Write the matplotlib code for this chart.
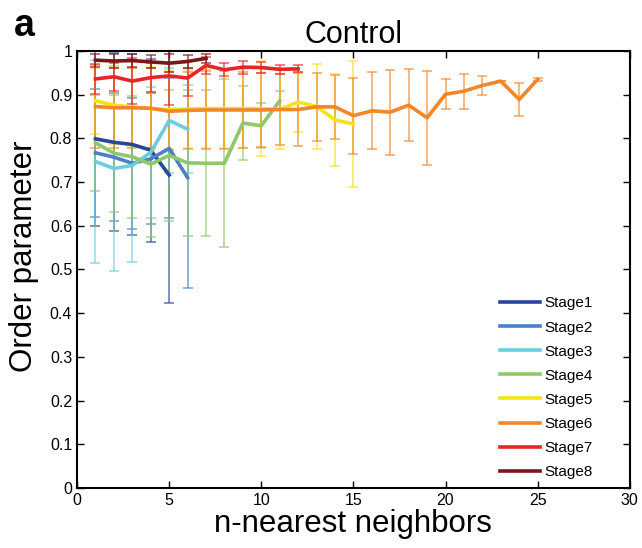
import matplotlib
matplotlib.use("Agg")
import matplotlib.pyplot as plt
import numpy as np

plt.rcParams['font.family'] = ['Liberation Sans', 'DejaVu Sans']

stage_names = ["Stage1", "Stage2", "Stage3", "Stage4", "Stage5", "Stage6", "Stage7", "Stage8"]
stage_colors = ["#27479a", "#4a80c6", "#6dcde0", "#8ec86a", "#f5e31a", "#f2862a", "#e8242a", "#7e1518"]

s1_mean = [0.799, 0.791, 0.786, 0.773, 0.716]
s1_std = [0.20, 0.204, 0.207, 0.209, 0.293]

s2_mean = [0.767, 0.757, 0.743, 0.753, 0.777, 0.710]
s2_std = [0.146, 0.146, 0.15, 0.15, 0.16, 0.252]

s3_mean = [0.747, 0.731, 0.738, 0.768, 0.841, 0.821]
s3_std = [0.233, 0.234, 0.222, 0.15, 0.12, 0.10]

s4_mean = [0.790, 0.766, 0.758, 0.741, 0.761, 0.744, 0.743, 0.743, 0.835, 0.829, 0.886]
s4_std = [0.11, 0.134, 0.14, 0.166, 0.149, 0.167, 0.167, 0.192, 0.084, 0.052, 0.022]

s5_mean = [0.886, 0.876, 0.872, 0.868, 0.866, 0.867, 0.868, 0.868, 0.868, 0.868, 0.866, 0.883, 0.873, 0.842, 0.833]
s5_std = [0.076, 0.09, 0.09, 0.095, 0.09, 0.09, 0.09, 0.09, 0.09, 0.108, 0.091, 0.068, 0.098, 0.105, 0.144]

s6_mean = [0.873, 0.870, 0.870, 0.869, 0.862, 0.864, 0.865, 0.865, 0.865, 0.865, 0.866, 0.866, 0.872, 0.872,
           0.852, 0.863, 0.860, 0.876, 0.847, 0.901, 0.908, 0.921, 0.931, 0.889, 0.935]
s6_std = [0.095, 0.092, 0.092, 0.092, 0.089, 0.089, 0.089, 0.089, 0.088, 0.084, 0.081, 0.084, 0.077, 0.0725,
          0.087, 0.088, 0.097, 0.0825, 0.108, 0.034, 0.040, 0.0225, 0.0, 0.038, 0.003]

s7_mean = [0.936, 0.941, 0.931, 0.939, 0.943, 0.938, 0.967, 0.957, 0.963, 0.962, 0.958, 0.959]
s7_std = [0.035, 0.032, 0.053, 0.034, 0.067, 0.04, 0.02, 0.015, 0.015, 0.012, 0.01, 0.008]

s8_mean = [0.979, 0.977, 0.978, 0.975, 0.972, 0.976, 0.983]
s8_std = [0.015, 0.015, 0.015, 0.015, 0.02, 0.015, 0.01]

means = [s1_mean, s2_mean, s3_mean, s4_mean, s5_mean, s6_mean, s7_mean, s8_mean]
stds = [s1_std, s2_std, s3_std, s4_std, s5_std, s6_std, s7_std, s8_std]

x_ticks = [0, 5, 10, 15, 20, 25, 30]
y_ticks = [0, 0.1, 0.2, 0.3, 0.4, 0.5, 0.6, 0.7, 0.8, 0.9, 1.0]
y_tick_labels = ["0", "0.1", "0.2", "0.3", "0.4", "0.5", "0.6", "0.7", "0.8", "0.9", "1"]

fig = plt.figure(figsize=(6.42, 5.48), dpi=100)
ax = fig.add_axes([0.12, 0.1095, 0.861, 0.7975])

for m, s, c in zip(means, stds, stage_colors):
    x = np.arange(1, len(m) + 1)
    ax.errorbar(x, m, yerr=s, fmt='none', ecolor=c, elinewidth=1.1, capsize=3.5,
                capthick=1.1, alpha=0.75, zorder=2)

for m, c, name in zip(means, stage_colors, stage_names):
    x = np.arange(1, len(m) + 1)
    ax.plot(x, m, color=c, lw=2.6, label=name, zorder=3)

ax.set_xlim(0, 30)
ax.set_ylim(0, 1)
ax.set_xticks(x_ticks)
ax.set_yticks(y_ticks)
ax.set_yticklabels(y_tick_labels)
ax.tick_params(direction='in', top=True, right=True, labelsize=11.5, length=5, width=1)
for sp in ax.spines.values():
    sp.set_linewidth(1.5)

ax.set_xlabel("n-nearest neighbors", fontsize=22.5, labelpad=1)
ax.set_ylabel("Order parameter", fontsize=22.5)
ax.yaxis.set_label_coords(-0.068, 0.531)
ax.set_title("Control", fontsize=22, pad=6)
fig.text(0.022, 0.935, "a", fontsize=27, fontweight='bold')

leg = ax.legend(loc='lower right', bbox_to_anchor=(0.958, -0.011), frameon=False, fontsize=11,
                handlelength=2.6, handletextpad=0.3, labelspacing=0.66)

fig.savefig("out.png", dpi=100)
